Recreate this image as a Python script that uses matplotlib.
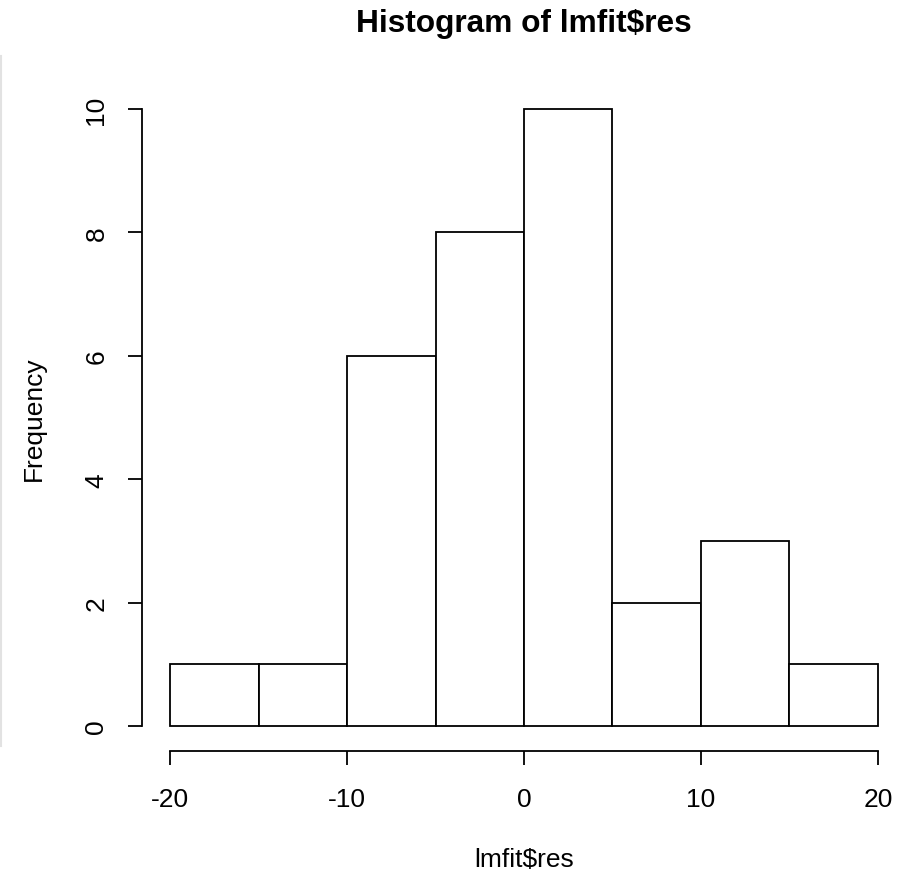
import matplotlib
matplotlib.use("Agg")
import matplotlib.pyplot as plt
from matplotlib.lines import Line2D

# residual histogram, R-style base graphics look
bin_left = [-20, -15, -10, -5, 0, 5, 10, 15]
bin_width = 5
counts = [1, 1, 6, 8, 10, 2, 3, 1]
x_ticks = [-20, -10, 0, 10, 20]
y_ticks = [0, 2, 4, 6, 8, 10]

plt.rcParams["font.family"] = ["Liberation Sans", "DejaVu Sans"]
plt.rcParams["axes.unicode_minus"] = False
BASE = 19

fig = plt.figure(figsize=(9.09, 8.79), dpi=100)
ax = fig.add_axes([0.1559, 0.1448, 0.8411, 0.7582])

ax.bar(bin_left, counts, width=bin_width, align="edge",
       facecolor="white", edgecolor="black", linewidth=1.3)

ax.set_xlim(-21.6, 21.6)
ax.set_ylim(-0.4, 10.4)

for side in ("top", "right"):
    ax.spines[side].set_visible(False)
ax.spines["left"].set_bounds(0, 10)
ax.spines["bottom"].set_bounds(-20, 20)
for side in ("left", "bottom"):
    ax.spines[side].set_linewidth(1.3)

ax.set_xticks(x_ticks)
ax.set_yticks(y_ticks)
ax.tick_params(axis="both", direction="out", length=10, width=1.3,
               labelsize=BASE)
ax.tick_params(axis="x", pad=16)
ax.tick_params(axis="y", pad=14)
for lbl in ax.get_yticklabels():
    lbl.set_rotation(90)
    lbl.set_va("center")

ax.set_xlabel("lmfit$res", fontsize=BASE, labelpad=26)
ax.set_ylabel("Frequency", fontsize=BASE, labelpad=28)
ax.set_title("Histogram of lmfit$res", fontsize=22.8, fontweight="bold",
             pad=38)

# faint border line at the left edge
fig.add_artist(Line2D([0.0015, 0.0015], [1 - 57 / 879, 1 - 747 / 879],
                      transform=fig.transFigure, color="#e2e2e2", lw=1.5))

fig.savefig("out.png", dpi=100)
